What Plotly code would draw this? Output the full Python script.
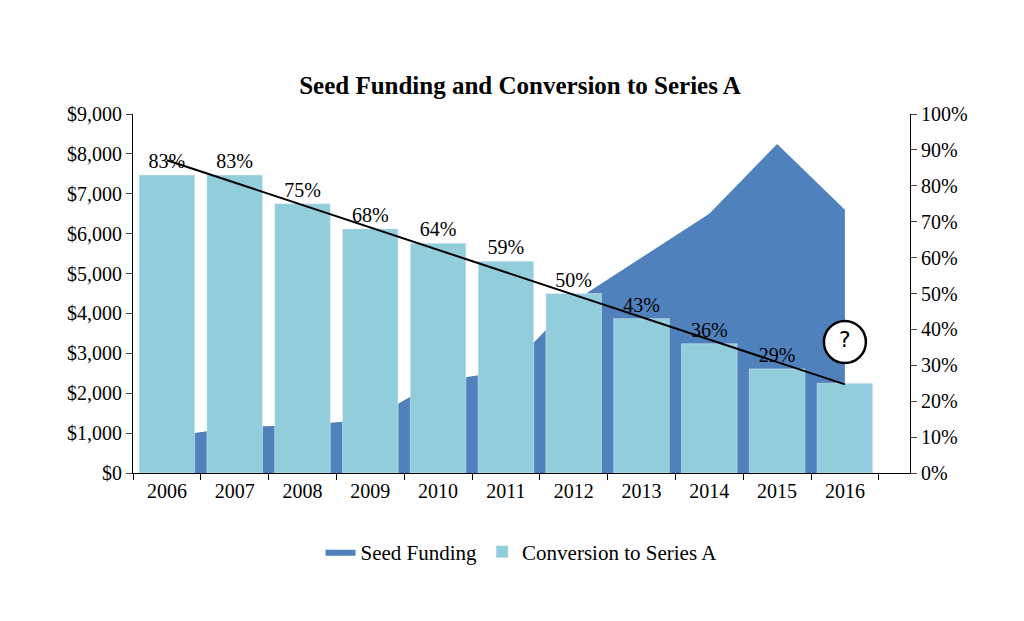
import plotly.graph_objects as go
import numpy as np

years = ["2006","2007","2008","2009","2010","2011","2012","2013","2014","2015","2016"]
seed_funding = [900, 1150, 1200, 1350, 2300, 2550, 4300, 5400, 6500, 8250, 6600]
conversion = [83, 83, 75, 68, 64, 59, 50, 43, 36, 29, 25]
labels = ["83%","83%","75%","68%","64%","59%","50%","43%","36%","29%",""]

idx = np.arange(len(years))
slope, inter = np.polyfit(idx, conversion, 1)
trend = [inter + slope * i for i in idx]

serif = "Liberation Serif"
fig = go.Figure()
fig.add_trace(go.Scatter(x=years, y=seed_funding, mode="lines", fill="tozeroy",
                         line=dict(color="#4f81bd", width=0), fillcolor="#4f81bd",
                         name="Seed Funding", yaxis="y"))
fig.add_trace(go.Bar(x=years, y=conversion, marker_color="#92cddc", width=0.82,
                     name="Conversion to Series A", yaxis="y2",
                     text=labels, textposition="outside", cliponaxis=False,
                     textfont=dict(family=serif, size=20, color="black")))
fig.add_trace(go.Scatter(x=[years[0], years[-1]], y=[trend[0], trend[-1]], mode="lines",
                         line=dict(color="black", width=2), yaxis="y2", showlegend=False))
fig.add_trace(go.Scatter(x=[years[-1]], y=[36.5], mode="markers+text", text=["?"],
                         textposition="middle center",
                         textfont=dict(family="DejaVu Sans", size=22, color="black"),
                         marker=dict(size=42, color="white", line=dict(color="black", width=2.5)),
                         yaxis="y2", showlegend=False, cliponaxis=False))

fig.update_layout(
    width=1024, height=621, paper_bgcolor="white", plot_bgcolor="white",
    margin=dict(l=125, r=122, t=106, b=156),
    title=dict(text="<b>Seed Funding and Conversion to Series A</b>", x=0.5, xanchor="center",
               y=0.875, yanchor="middle", font=dict(family=serif, size=25, color="black")),
    font=dict(family=serif, size=20, color="black"),
    bargap=0.18,
    xaxis=dict(showline=True, linecolor="black", ticks="outside", tickson="boundaries",
               ticklen=6, tickcolor="black", tickfont=dict(family=serif, size=20)),
    yaxis=dict(range=[0, 9000], dtick=1000, tickprefix="$", tickformat=",", showgrid=False,
               showline=True, linecolor="black", ticks="outside", ticklen=6, zeroline=False),
    yaxis2=dict(range=[0, 100], dtick=10, ticksuffix="%", overlaying="y", side="right",
                showgrid=False, showline=True, linecolor="black", ticks="outside", ticklen=6,
                zeroline=False),
    legend=dict(orientation="h", x=0.5, xanchor="center", y=-0.22, yanchor="middle",
                font=dict(family=serif, size=21), itemwidth=30),
)
fig.write_html("out.html")
